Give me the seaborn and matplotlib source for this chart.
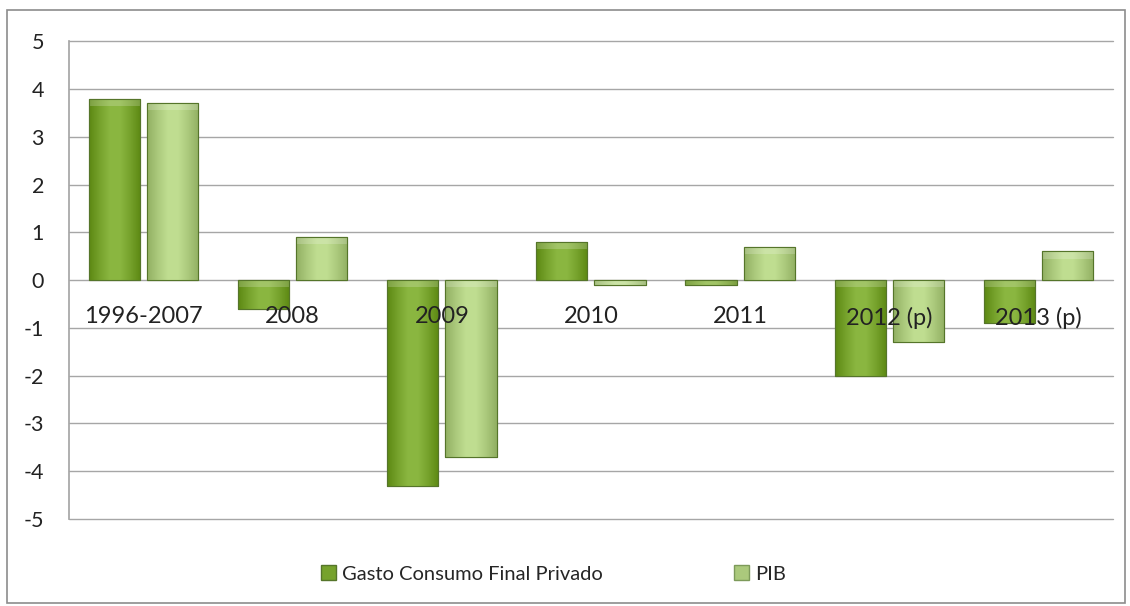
import numpy as np
import pandas as pd
import matplotlib
matplotlib.use("Agg")
import matplotlib.pyplot as plt
import seaborn as sns
from matplotlib.patches import Rectangle, Patch
from matplotlib.colors import LinearSegmentedColormap

periods = ["1996-2007", "2008", "2009", "2010", "2011", "2012 (p)", "2013 (p)"]
gasto = [3.8, -0.6, -4.3, 0.8, -0.1, -2.0, -0.9]
pib = [3.7, 0.9, -3.7, -0.1, 0.7, -1.3, 0.6]
series_names = ["Gasto Consumo Final Privado", "PIB"]
y_ticks = [5, 4, 3, 2, 1, 0, -1, -2, -3, -4, -5]

dark_green = "#76a22c"
light_green = "#abc97c"

df = pd.DataFrame({
    "periodo": periods * 2,
    "serie": [series_names[0]] * len(periods) + [series_names[1]] * len(periods),
    "valor": gasto + pib,
})

sns.set_theme(style="white")
plt.rcParams["font.family"] = ["Lato", "DejaVu Sans"]

fig = plt.figure(figsize=(11.3, 6.06), dpi=100)
ax = fig.add_axes([0.0610, 0.1436, 0.9240, 0.7884])

sns.barplot(data=df, x="periodo", y="valor", hue="serie", order=periods,
            hue_order=series_names, palette=[dark_green, light_green],
            width=0.78, gap=0.12, errorbar=None, ax=ax, legend=False,
            edgecolor="#5f7f2a", linewidth=0.8)

# soft bevel shading on each bar
for patch, base in zip(ax.patches, [dark_green] * len(periods) + [light_green] * len(periods)):
    x0, y0 = patch.get_x(), patch.get_y()
    w, h = patch.get_width(), patch.get_height()
    rgb = np.array(matplotlib.colors.to_rgb(base))
    light = np.clip(rgb + 0.08, 0, 1)
    dark = np.clip(rgb - 0.10, 0, 1)
    cmap = LinearSegmentedColormap.from_list("bev", [dark, rgb, light, light, rgb, dark])
    grad = np.linspace(0, 1, 64).reshape(1, -1)
    ymin, ymax = min(y0, y0 + h), max(y0, y0 + h)
    im = ax.imshow(grad, extent=[x0, x0 + w, ymin, ymax], aspect="auto",
                   cmap=cmap, zorder=patch.get_zorder() + 0.01, interpolation="bicubic")
    im.set_clip_path(patch)
    # lighter cap strip at the top end
    cap = min(0.15, abs(h))
    ax.add_patch(Rectangle((x0, ymax - cap), w, cap, facecolor="white", alpha=0.2,
                           lw=0, zorder=patch.get_zorder() + 0.02))
    ax.add_patch(Rectangle((x0, ymin), w, ymax - ymin, facecolor="none",
                           edgecolor="#55752a", lw=0.8, zorder=patch.get_zorder() + 0.03))

ax.set_xlim(-0.5, len(periods) - 0.5)
ax.set_ylim(-5, 5)
ax.set_yticks(y_ticks)
ax.set_yticklabels([str(v) for v in y_ticks])
ax.yaxis.grid(True, color="#a6a6a6", linewidth=1.0)
for gl in ax.get_ygridlines():
    gl.set_clip_on(False)
ax.xaxis.grid(False)
ax.yaxis.set_zorder(0.5)
ax.xaxis.set_zorder(5)

for side in ["top", "right"]:
    ax.spines[side].set_visible(False)
ax.spines["left"].set_color("#a6a6a6")
ax.spines["bottom"].set_position(("data", 0))
ax.spines["bottom"].set_visible(False)

ax.tick_params(axis="y", length=0, pad=18, labelsize=15.5, labelcolor="#222222")
ax.tick_params(axis="x", length=0, pad=19, labelsize=17, labelcolor="#222222")
ax.set_xlabel("")
ax.set_ylabel("")

# outer chart frame
fig.patches.append(Rectangle((0.006, 0.005), 0.99, 0.978, transform=fig.transFigure,
                             facecolor="none", edgecolor="#8c8c8c", linewidth=1.2))

handles = [Patch(facecolor=dark_green, edgecolor="#55752a"),
           Patch(facecolor=light_green, edgecolor="#7d9a5a")]
fig.legend(handles, series_names, loc="center", bbox_to_anchor=(0.49, 0.053),
           ncol=2, frameon=False, fontsize=14.5, columnspacing=6.5,
           handlelength=0.75, handleheight=0.75, handletextpad=0.3)

fig.savefig("out.png", dpi=100)
